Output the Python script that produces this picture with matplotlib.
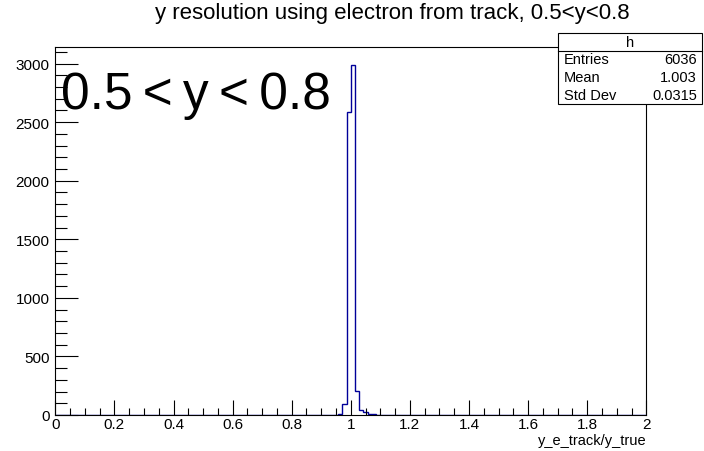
import numpy as np
import matplotlib
matplotlib.use("Agg")
import matplotlib.pyplot as plt
from matplotlib.ticker import MultipleLocator

# ---- data ----
n_bins = 140
x_min, x_max = 0.0, 2.0
window_start_bin = 66          # first non-empty bin index
window_counts = [3, 5, 94, 2589, 2990, 207, 45, 23, 10, 6, 3]
title = "y resolution using electron from track, 0.5<y<0.8"
xlabel = "y_e_track/y_true"
label_text = "0.5\u2009<\u2009y\u2009<\u20090.8"
stats_name = "h"
stats_rows = [("Entries", "6036"), ("Mean", "1.003"), ("Std Dev", "0.0315")]

edges = np.linspace(x_min, x_max, n_bins + 1)
counts = np.zeros(n_bins)
counts[window_start_bin:window_start_bin + len(window_counts)] = window_counts

plt.rcParams['font.family'] = ['Liberation Sans', 'DejaVu Sans']

W, H = 704, 452
fig = plt.figure(figsize=(W / 100, H / 100), dpi=100)
L, R, T, B = 55.3, 646.3, 48.3, 416
ax = fig.add_axes([L / W, 1 - B / H, (R - L) / W, (B - T) / H])

hist_color = '#000099'
ax.stairs(counts, edges, color=hist_color, lw=1.0)
ax.set_xlim(x_min, x_max)
ax.set_ylim(0, counts.max() * 1.05)

ax.xaxis.set_major_locator(MultipleLocator(0.2))
ax.xaxis.set_minor_locator(MultipleLocator(0.05))
ax.yaxis.set_major_locator(MultipleLocator(500))
ax.yaxis.set_minor_locator(MultipleLocator(100))
ax.tick_params(axis='both', which='both', direction='in', top=False, right=False,
               labelsize=11, width=0.8, color='black')
ax.tick_params(axis='x', which='major', length=10.5, pad=1.5)
ax.tick_params(axis='x', which='minor', length=5.3)
ax.tick_params(axis='y', which='major', length=16.5, pad=4)
ax.tick_params(axis='y', which='minor', length=8.3)
ax.xaxis.set_major_formatter(matplotlib.ticker.FuncFormatter(lambda v, p: f"{v:g}"))
for s in ax.spines.values():
    s.set_linewidth(0.8)

fig.text(R / W, 1 - 441 / H, xlabel, ha='right', va='center', fontsize=10.5)
fig.text(392 / W, 1 - 14 / H, title, ha='center', va='center', fontsize=16)
fig.text(61 / W, 1 - 95 / H, label_text, ha='left', va='center', fontsize=37)

# stats box
bx0, bx1, by0, by1, byh = 557.5, 702, 34.3, 105, 51.7
box = plt.Rectangle((bx0 / W, 1 - by1 / H), (bx1 - bx0) / W, (by1 - by0) / H,
                    transform=fig.transFigure, facecolor='white', edgecolor='black',
                    lw=0.8, zorder=5)
fig.add_artist(box)
fig.add_artist(plt.Line2D([bx0 / W, bx1 / W], [1 - byh / H, 1 - byh / H],
                          transform=fig.transFigure, color='black', lw=0.8, zorder=6))
fig.text((bx0 + bx1) / 2 / W, 1 - (by0 + byh) / 2 / H, stats_name, ha='center',
         va='center', fontsize=10.5, zorder=7)
row_y = [60, 78, 95.5]
for (k, v), yy in zip(stats_rows, row_y):
    fig.text(564 / W, 1 - yy / H, k, ha='left', va='center', fontsize=10.5, zorder=7)
    fig.text(697 / W, 1 - yy / H, v, ha='right', va='center', fontsize=10.5, zorder=7)

fig.savefig("out.png", dpi=100)
